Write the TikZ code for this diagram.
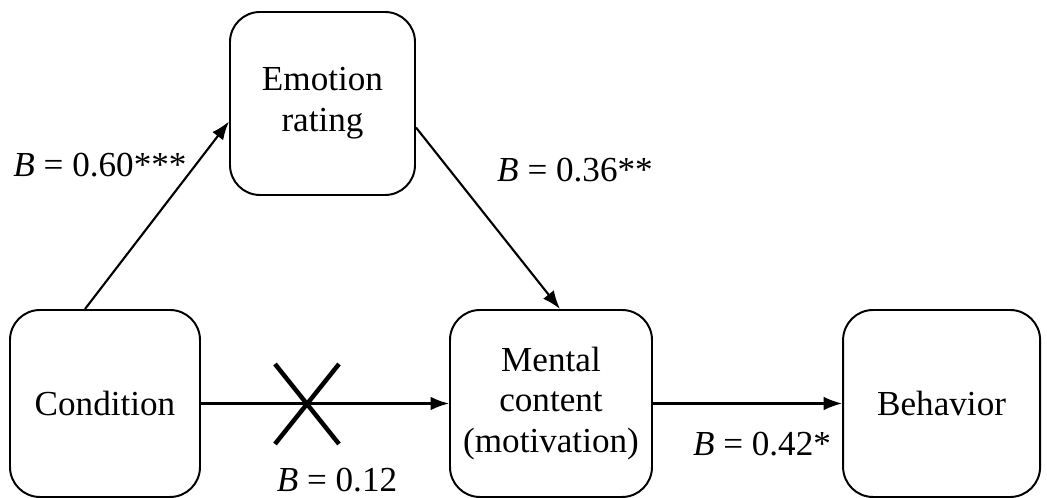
\documentclass[tikz,border=0pt]{standalone}
\usepackage{fontspec}
\setmainfont{Liberation Serif}
\usepackage{tikz}
\usetikzlibrary{arrows.meta}

\begin{document}
\begin{tikzpicture}[
    varbox/.style={
        draw=black,
        line width=1.4pt,
        rounded corners=0.75cm,
        align=center,
        inner sep=0pt,
        minimum height=4.675cm,
        font=\fontsize{25}{29}\selectfont
    },
    patharrow/.style={
        draw=black,
        line width=1.5pt,
        -{Latex[length=4.6mm,width=3.4mm]}
    },
    coeflabel/.style={
        inner sep=0pt,
        font=\fontsize{25}{29}\selectfont
    }
]

% variables
\node[varbox, minimum width=4.625cm, minimum height=4.575cm]
(emotion) at (8.0625,9.8625)
{Emotion\\rating};

\node[varbox, minimum width=4.75cm]
(condition) at (2.625,2.3625)
{Condition};

\node[varbox, minimum width=5.05cm]
(mental) at (13.775,2.3625)
{Mental\\content\\(motivation)};

\node[varbox, minimum width=4.925cm]
(behavior) at (23.54,2.3625)
{Behavior};

% paths
\draw[patharrow]
([xshift=-0.5cm]condition.north)
-- ([yshift=-0.45cm]emotion.west);

\draw[patharrow]
([yshift=-0.6cm]emotion.east)
-- ([xshift=0.225cm]mental.north);

\draw[patharrow]
(condition.east) -- (mental.west);

\draw[patharrow]
(mental.east) -- (behavior.west);

% cross on the direct path
\coordinate (cross) at (7.675,2.35);
\draw[
    black,
    line width=3.2pt
]
([shift={(-0.8,1.0)}]cross) -- ([shift={(0.8,-1.0)}]cross)
([shift={(-0.8,-1.0)}]cross) -- ([shift={(0.8,1.0)}]cross);

% coefficients
\node[coeflabel] (bemo) at (2.5,8.325)
{\textit{B} = 0.60***};

\node[coeflabel] (bmen) at (14.375,8.2)
{\textit{B} = 0.36**};

\node[coeflabel] (bdir) at (8.425,0.45)
{\textit{B} = 0.12};

\node[coeflabel] (bbeh) at (19.05,1.35)
{\textit{B} = 0.42*};

\pgfresetboundingbox
\path[use as bounding box] (0,0) rectangle (26.175,12.45);
\end{tikzpicture}
\end{document}
